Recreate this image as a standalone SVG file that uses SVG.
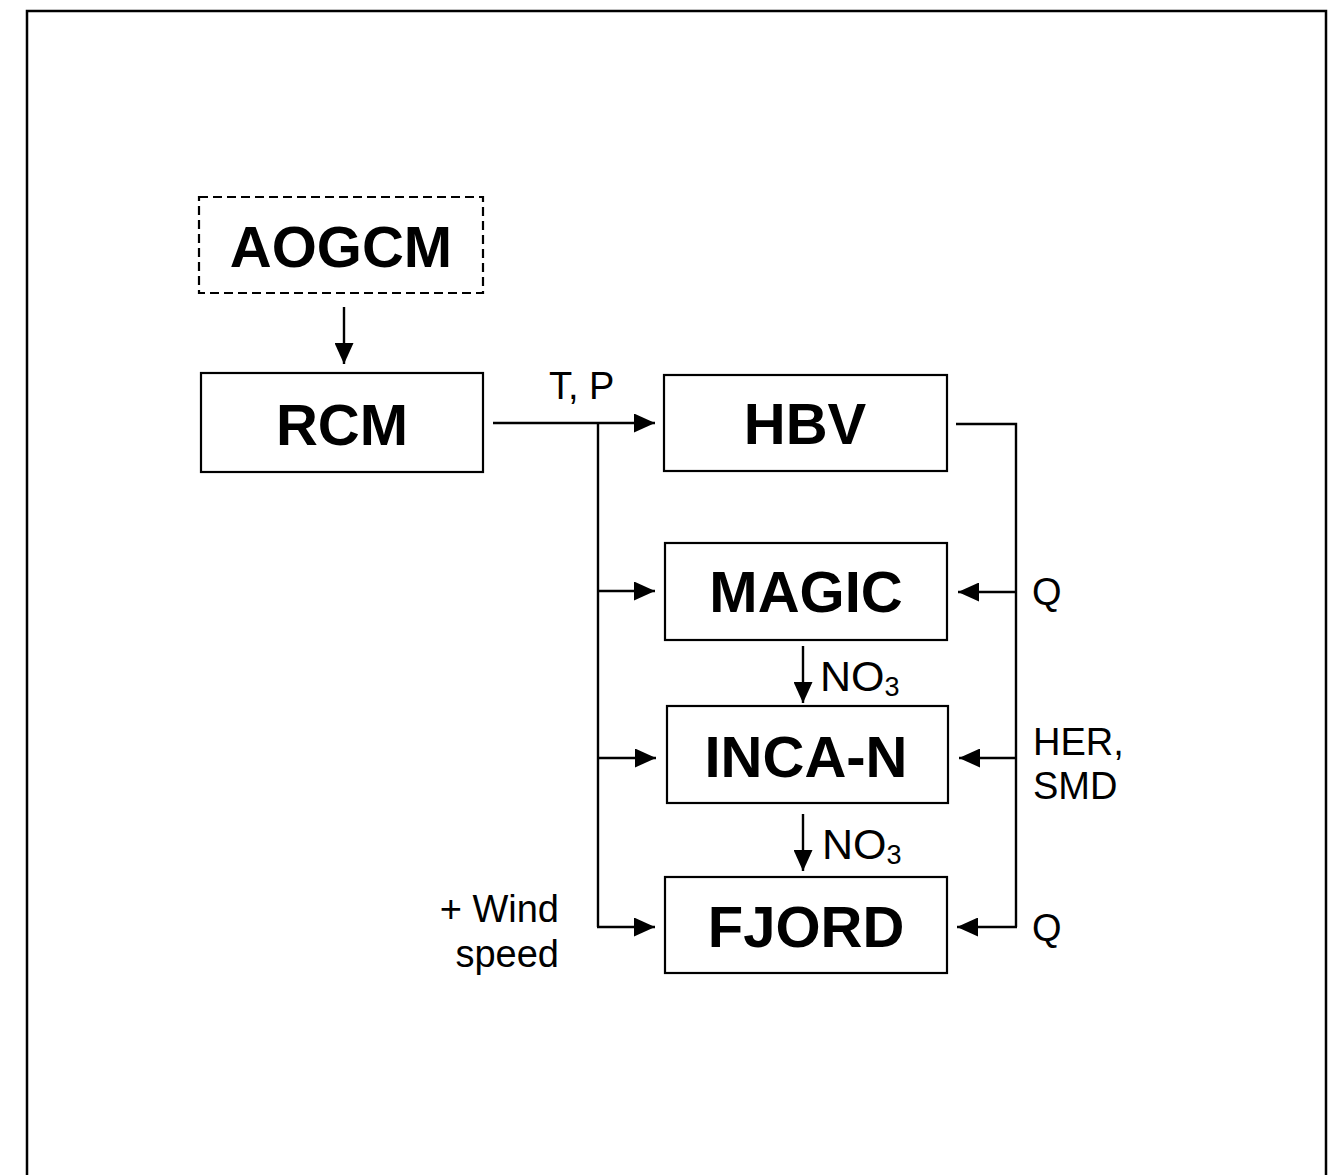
<svg xmlns="http://www.w3.org/2000/svg" width="1341" height="1175" viewBox="0 0 1341 1175">
<style>
.box{fill:#fff;stroke:#000;stroke-width:2.2}
.dash{fill:#fff;stroke:#000;stroke-width:2.2;stroke-dasharray:9 5}
.big{font-family:"Liberation Sans",Arial,sans-serif;font-weight:bold;font-size:58px;text-anchor:middle;fill:#000}
.lbl{font-family:"Liberation Sans",Arial,sans-serif;font-size:38px;fill:#000}
.no{font-family:"Liberation Sans",Arial,sans-serif;font-size:43px;fill:#000}
.ln{fill:none;stroke:#000;stroke-width:2.4}
</style>
<defs>
<marker id="ah" viewBox="0 0 21 19" refX="21" refY="9.5" markerWidth="21" markerHeight="19" markerUnits="userSpaceOnUse" orient="auto">
<path d="M0,0 L21,9.5 L0,19 Z" fill="#000"/>
</marker>
</defs>
<rect width="1341" height="1175" fill="#fff"/>
<path d="M27,1180 V11 H1326 V1180" fill="none" stroke="#000" stroke-width="2.5"/>

<g id="aogcm"><rect class="dash" x="199" y="197" width="284" height="96"/><text class="big" x="341" y="267">AOGCM</text></g>
<g id="rcm"><rect class="box" x="201" y="373" width="282" height="99"/><text class="big" x="342" y="445">RCM</text></g>
<g id="hbv"><rect class="box" x="664" y="375" width="283" height="96"/><text class="big" x="805" y="444">HBV</text></g>
<g id="magic"><rect class="box" x="665" y="543" width="282" height="97"/><text class="big" x="806" y="612">MAGIC</text></g>
<g id="incan"><rect class="box" x="667" y="706" width="281" height="97"/><text class="big" x="806" y="777">INCA-N</text></g>
<g id="fjord"><rect class="box" x="665" y="877" width="282" height="96"/><text class="big" x="806" y="947">FJORD</text></g>

<g id="connectors">
<line class="ln" x1="344" y1="307" x2="344" y2="364" marker-end="url(#ah)"/>
<line class="ln" x1="493" y1="423" x2="655" y2="423" marker-end="url(#ah)"/>
<path class="ln" d="M598,423 V927"/>
<line class="ln" x1="598" y1="591" x2="655" y2="591" marker-end="url(#ah)"/>
<line class="ln" x1="598" y1="758" x2="656" y2="758" marker-end="url(#ah)"/>
<line class="ln" x1="597" y1="927" x2="655" y2="927" marker-end="url(#ah)"/>
<path class="ln" d="M956,424 H1016 V927"/>
<line class="ln" x1="1016" y1="592" x2="958" y2="592" marker-end="url(#ah)"/>
<line class="ln" x1="1016" y1="758" x2="959" y2="758" marker-end="url(#ah)"/>
<line class="ln" x1="1017" y1="927" x2="957" y2="927" marker-end="url(#ah)"/>
<line class="ln" x1="803" y1="646" x2="803" y2="703" marker-end="url(#ah)"/>
<line class="ln" x1="803" y1="814" x2="803" y2="871" marker-end="url(#ah)"/>
</g>

<g id="labels">
<text class="lbl" x="549" y="399">T, P</text>
<text class="lbl" x="1032" y="605">Q</text>
<text class="lbl" x="1032" y="941">Q</text>
<text class="lbl" x="1033" y="755">HER,</text>
<text class="lbl" x="1033" y="799">SMD</text>
<text class="lbl" x="559" y="922" text-anchor="end">+ Wind</text>
<text class="lbl" x="559" y="967" text-anchor="end">speed</text>
<text class="no" x="820" y="691">NO<tspan font-size="27" dy="5">3</tspan></text>
<text class="no" x="822" y="859">NO<tspan font-size="27" dy="5">3</tspan></text>
</g>
</svg>
